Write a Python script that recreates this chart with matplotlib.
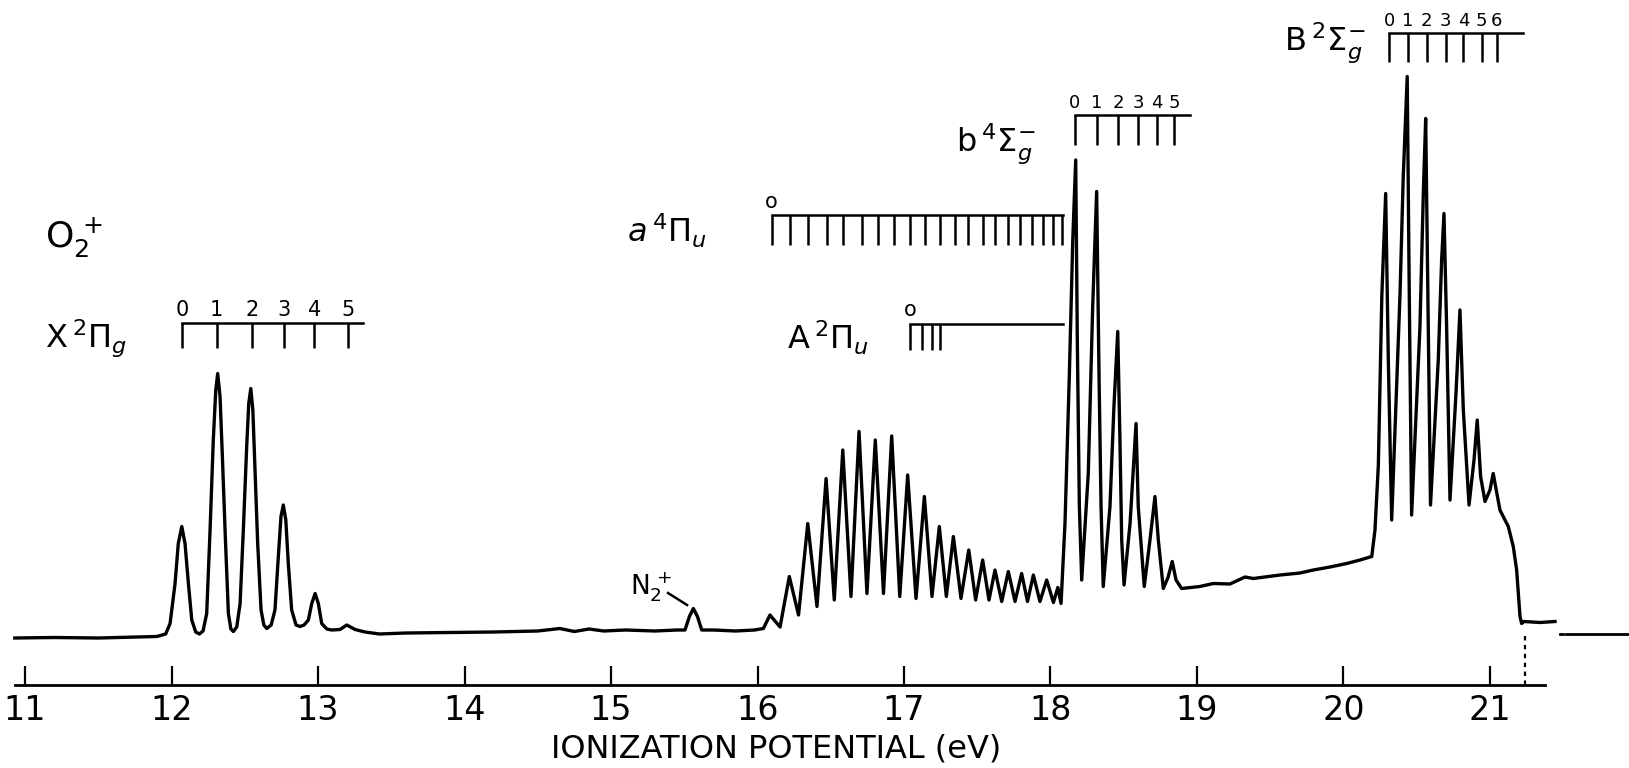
import matplotlib.pyplot as plt

# He I photoelectron spectrum of O2
# ionization potential (eV) and counts (arbitrary units)
trace_ev = [
    10.93, 11.20, 11.50, 11.75, 11.90, 11.96,
    11.99, 12.024, 12.046, 12.070, 12.092, 12.115, 12.138, 12.165, 12.19, 12.215,
    12.240, 12.263, 12.285, 12.302, 12.315, 12.331, 12.347, 12.367, 12.388, 12.405, 12.422, 12.445,
    12.468, 12.490, 12.513, 12.527, 12.541, 12.555, 12.570, 12.588, 12.611, 12.630, 12.650, 12.680,
    12.706, 12.729, 12.747, 12.763, 12.780, 12.797, 12.820, 12.850, 12.877, 12.905,
    12.934, 12.957, 12.980, 13.002, 13.025, 13.060, 13.094,
    13.150, 13.196, 13.253, 13.32, 13.42,
    13.6, 13.9, 14.2, 14.5, 14.65, 14.75, 14.85, 14.95, 15.1, 15.3, 15.45,
    15.505, 15.535, 15.562, 15.59, 15.619,
    15.70, 15.85, 15.98, 16.04,
    16.085, 16.154,
    16.217, 16.280, 16.343, 16.406, 16.468, 16.524, 16.582, 16.638, 16.693, 16.747,
    16.804, 16.860, 16.916, 16.971, 17.025, 17.082, 17.139, 17.191, 17.241, 17.289,
    17.337, 17.389, 17.442, 17.489, 17.537, 17.580, 17.621, 17.667, 17.712, 17.758,
    17.803, 17.843, 17.883, 17.928, 17.974, 18.020, 18.050, 18.072,
    18.099, 18.129, 18.152, 18.172, 18.183, 18.197, 18.213,
    18.258, 18.288, 18.315, 18.331, 18.345, 18.360,
    18.406, 18.433, 18.459, 18.474, 18.486, 18.502,
    18.543, 18.584, 18.599, 18.640,
    18.679, 18.713, 18.736, 18.770,
    18.802, 18.831, 18.857, 18.895,
    19.020, 19.111, 19.225, 19.328, 19.384, 19.567, 19.703, 19.794, 19.908, 20.022, 20.113, 20.193,
    20.215, 20.238, 20.262, 20.288, 20.306, 20.329,
    20.386, 20.408, 20.435, 20.449, 20.465,
    20.522, 20.545, 20.561, 20.579, 20.594,
    20.647, 20.670, 20.686, 20.704, 20.727,
    20.768, 20.795, 20.818, 20.857,
    20.891, 20.913, 20.936, 20.966,
    21.000, 21.022, 21.068, 21.125, 21.159, 21.182, 21.205, 21.216, 21.232, 21.341, 21.444,
]
trace_counts = [
    0.4, 0.5, 0.4, 0.6, 0.7, 1.2,
    3.3, 11.3, 19.3, 22.7, 19.3, 11.3, 4.0, 1.6, 1.2, 1.8,
    5.3, 22.0, 40.0, 50.0, 53.3, 48.7, 36.7, 20.7, 5.3, 2.2, 1.7, 2.6,
    7.3, 22.0, 38.7, 47.3, 50.3, 46.0, 34.0, 19.3, 6.0, 3.0, 2.3, 3.0,
    6.0, 16.7, 24.7, 27.0, 24.0, 15.3, 6.0, 3.0, 2.7, 3.0,
    4.0, 7.3, 9.3, 7.3, 3.3, 2.2, 2.0,
    2.1, 3.0, 2.1, 1.6, 1.2,
    1.4, 1.5, 1.6, 1.8, 2.3, 1.7, 2.2, 1.8, 2.0, 1.8, 2.0,
    2.0, 4.7, 6.3, 4.7, 2.0,
    2.0, 1.8, 2.0, 2.3,
    5.0, 2.6,
    12.7, 5.0, 23.3, 6.7, 32.3, 8.0, 38.0, 8.7, 41.7, 9.3,
    40.0, 9.3, 40.8, 8.7, 33.0, 8.3, 28.7, 8.7, 22.7, 8.7,
    20.7, 8.3, 18.0, 8.0, 16.0, 8.0, 14.0, 7.7, 13.7, 7.7,
    13.3, 7.7, 13.0, 7.7, 12.0, 7.5, 10.5, 7.3,
    23.4, 53.4, 80.0, 96.0, 60.0, 26.7, 12.0,
    33.4, 66.7, 89.7, 53.4, 26.7, 10.7,
    26.7, 46.7, 61.7, 40.0, 20.0, 11.0,
    23.3, 43.3, 26.7, 10.7,
    20.0, 28.7, 20.0, 10.3,
    12.5, 15.7, 12.0, 10.3,
    10.7, 11.3, 11.2, 12.6, 12.3, 13.0, 13.4, 14.0, 14.6, 15.3, 16.0, 16.7,
    22.0, 35.0, 69.0, 89.3, 56.0, 24.0,
    69.3, 92.7, 112.7, 69.3, 25.0,
    62.7, 89.3, 104.3, 62.7, 27.0,
    56.0, 76.0, 85.3, 62.7, 28.0,
    49.3, 66.0, 46.0, 27.0,
    36.0, 44.0, 32.7, 27.7,
    30.0, 33.3, 26.0, 22.7, 18.7, 14.0, 4.7, 3.3, 3.7, 3.5, 3.7,
]

# vibrational progressions (eV)
X_levels = [12.070, 12.309, 12.547, 12.768, 12.975, 13.207]
a_levels = [16.097, 16.222, 16.347, 16.472, 16.582, 16.711, 16.825, 16.934, 17.041, 17.143,
            17.246, 17.348, 17.439, 17.537, 17.621, 17.712, 17.792, 17.872, 17.951, 18.019, 18.076]
A_levels = [17.041, 17.121, 17.189, 17.246]
b_levels = [18.167, 18.315, 18.463, 18.599, 18.725, 18.843]
B_levels = [20.311, 20.438, 20.568, 20.698, 20.818, 20.943, 21.046]

ticks = [11, 12, 13, 14, 15, 16, 17, 18, 19, 20, 21]
tick_labels = ['11', '12', '13', '14', '15', '16', '17', '18', '19', '20', '21']
he_line = 21.239

narrow = ['Liberation Sans Narrow', 'DejaVu Sans']

fig = plt.figure(figsize=(16.29, 7.68), dpi=100)
ax = fig.add_axes([0, 0, 1, 1])
ax.set_xlim(10.829, 21.949)
ax.set_ylim(-25.6, 128)

ax.plot(trace_ev, trace_counts, color='black', lw=2.4, solid_joinstyle='round')
# zero line beyond the end of the scan
ax.plot([21.48, 21.50], [1.2, 1.2], color='black', lw=2)
ax.plot([21.52, 21.95], [1.2, 1.2], color='black', lw=2)
ax.plot([he_line, he_line], [0.8, -8.9], color='black', lw=1.6, linestyle=(0, (2, 2)))


def comb(levels, y_line, y_tick, x_end, labels, fs):
    ax.plot([levels[0], x_end], [y_line, y_line], color='black', lw=1.8)
    ax.vlines(levels, y_tick, y_line, color='black', lw=1.8)
    for x, s in zip(levels, labels):
        ax.text(x, y_line + 0.6, s, ha='center', va='bottom', fontsize=fs,
                family=narrow)


comb(X_levels, 63.5, 58.4, 13.309, ['0', '1', '2', '3', '4', '5'], 15)
comb(a_levels, 85.0, 79.0, 18.085, ['o'], 15)
comb(A_levels, 63.3, 58.0, 18.087, ['o'], 15)
comb(b_levels, 105.0, 99.0, 18.952, ['0', '1', '2', '3', '4', '5'], 13)
comb(B_levels, 121.5, 115.7, 21.228, ['0', '1', '2', '3', '4', '5', '6'], 13)

ax.text(11.137, 78.6, r'$\mathrm{O}_2^{\,+}$', fontsize=26, va='baseline')
ax.text(11.137, 58.4, r'$\mathrm{X}\,{}^{2}\Pi_{g}$', fontsize=23, va='baseline')
ax.text(15.109, 79.4, r'$a\,{}^{4}\Pi_{u}$', fontsize=23, va='baseline')
ax.text(16.201, 58.0, r'$\mathrm{A}\,{}^{2}\Pi_{u}$', fontsize=23, va='baseline')
ax.text(17.355, 97.8, r'$\mathrm{b}\,{}^{4}\Sigma_{g}^{-}$', fontsize=23, va='baseline')
ax.text(19.594, 118.0, r'$\mathrm{B}\,{}^{2}\Sigma_{g}^{-}$', fontsize=23, va='baseline')
ax.text(15.130, 9.0, r'$\mathrm{N}_2^{\,+}$', fontsize=19, va='baseline')
ax.plot([15.389, 15.519], [9.4, 7.0], color='black', lw=1.8)

for side in ['left', 'right', 'top']:
    ax.spines[side].set_visible(False)
ax.spines['bottom'].set_position(('data', -8.9))
ax.spines['bottom'].set_bounds(10.93, 21.375)
ax.spines['bottom'].set_linewidth(2)
ax.set_yticks([])
ax.set_xticks(ticks)
ax.set_xticklabels(tick_labels, family=narrow, fontsize=24)
ax.tick_params(axis='x', direction='in', length=14, width=1.6, pad=7)
ax.set_xlabel('IONIZATION POTENTIAL (eV)', fontsize=23, family=narrow)
ax.xaxis.set_label_coords(0.4764, 0.045)

fig.savefig('out.png', dpi=100)
